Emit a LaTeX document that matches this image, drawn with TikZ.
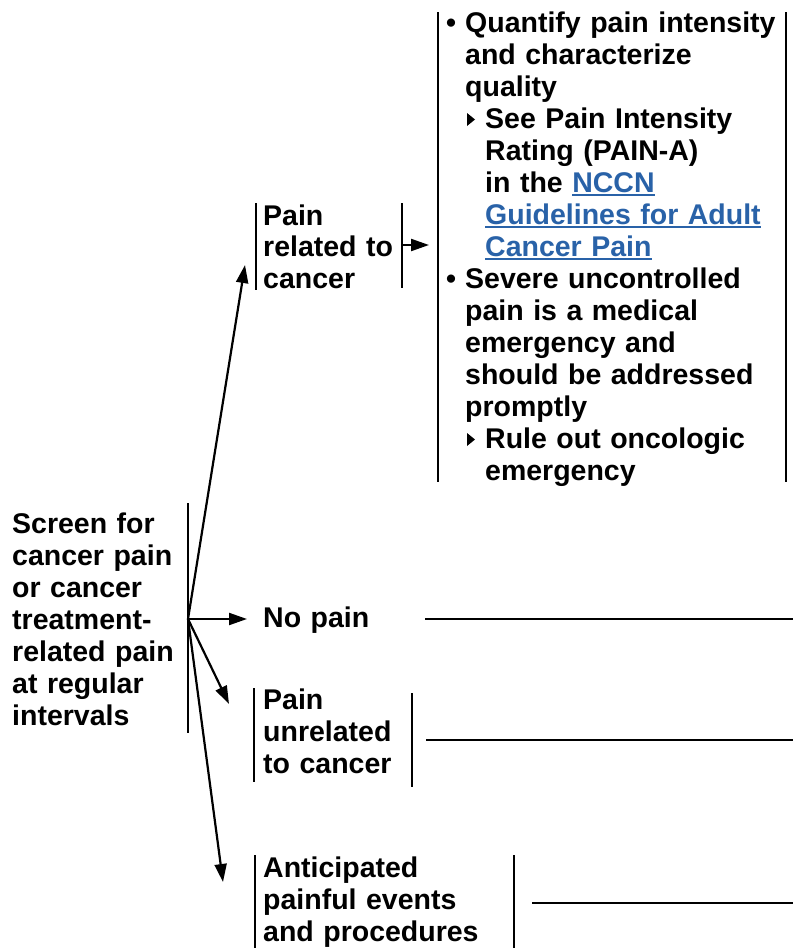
\documentclass[tikz,border=0pt]{standalone}
\usepackage{fontspec}
\setmainfont{Liberation Sans}
\usetikzlibrary{arrows.meta}
\definecolor{linkblue}{RGB}{41,98,168}
\newcommand\mylnk[1]{\setbox0\hbox{#1}\textcolor{linkblue}{\rlap{\rule[-4pt]{\wd0}{2pt}}\box0}}
\newcommand\mybul{\noindent\llap{\textbullet\hspace{9pt}}}
\tikzset{
  txt/.style={anchor=base west, inner sep=0pt, align=left, text width=#1,
    font=\fontsize{28.5}{32}\selectfont\bfseries},
  txt/.default=340pt,
  bar/.style={line width=2.2pt},
  arr/.style={line width=2.2pt, -{Triangle[length=18pt,width=12pt]}},
  tri/.style={fill=black}
}
\begin{document}
\begin{tikzpicture}[x=1pt,y=-1pt]
\useasboundingbox (0,0) rectangle (793,948);
% texts
\node[txt=170pt] (screen) at (12,533) {Screen for\\cancer pain\\or cancer\\treatment-\\related pain\\at regular\\intervals};
\node[txt=150pt, font=\fontsize{28.5}{31.5}\selectfont\bfseries] (related) at (263,225) {Pain\\related to\\cancer};
\node[txt=340pt] (box) at (465,32) {%
\mybul Quantify pain intensity\\
and characterize\\
quality\\
\hspace*{20pt}See Pain Intensity\\
\hspace*{20pt}Rating (PAIN-A)\\
\hspace*{20pt}in the \mylnk{NCCN}\\
\hspace*{20pt}\mylnk{Guidelines for Adult}\\
\hspace*{20pt}\mylnk{Cancer Pain}\\
\mybul Severe uncontrolled\\
pain is a medical\\
emergency and\\
should be addressed\\
promptly\\
\hspace*{20pt}Rule out oncologic\\
\hspace*{20pt}emergency};
% sub-bullet triangles
\fill[tri] (467,113) -- (467,126) -- (475,119.5) -- cycle;
\fill[tri] (467,433) -- (467,446) -- (475,439.5) -- cycle;
\node[txt=150pt] (nopain) at (263,627) {No pain};
\node[txt=150pt] (unrel) at (263,709) {Pain\\unrelated\\to cancer};
\node[txt=260pt] (antic) at (263,877) {Anticipated\\painful events\\and procedures};
% bars
\draw[bar] (188,503) -- (188,733);
\draw[bar] (256,203) -- (256,290);
\draw[bar] (402,203) -- (402,288);
\draw[bar] (438,12) -- (438,482);
\draw[bar] (786,12) -- (786,482);
\draw[bar] (254,688) -- (254,782);
\draw[bar] (412,693) -- (412,787);
\draw[bar] (255,855) -- (255,948);
\draw[bar] (514,855) -- (514,948);
% connector coordinates
\coordinate (o) at (188,619);
\coordinate (t1) at (245,265);
\coordinate (t2) at (247,619);
\coordinate (t3) at (229,704);
\coordinate (t4) at (223,882);
\coordinate (r1) at (402,245);
\coordinate (r2) at (429,245);
\coordinate (n1) at (425,619);
\coordinate (n2) at (793,619);
\coordinate (u1) at (426,740);
\coordinate (u2) at (793,740);
\coordinate (a1) at (532,903);
\coordinate (a2) at (793,903);
% connectors
\draw[arr] (o) -- (t1);
\draw[arr] (o) -- (t2);
\draw[arr] (o) -- (t3);
\draw[arr] (o) -- (t4);
\draw[arr] (r1) -- (r2);
\draw[bar] (n1) -- (n2);
\draw[bar] (u1) -- (u2);
\draw[bar] (a1) -- (a2);
\end{tikzpicture}
\end{document}
